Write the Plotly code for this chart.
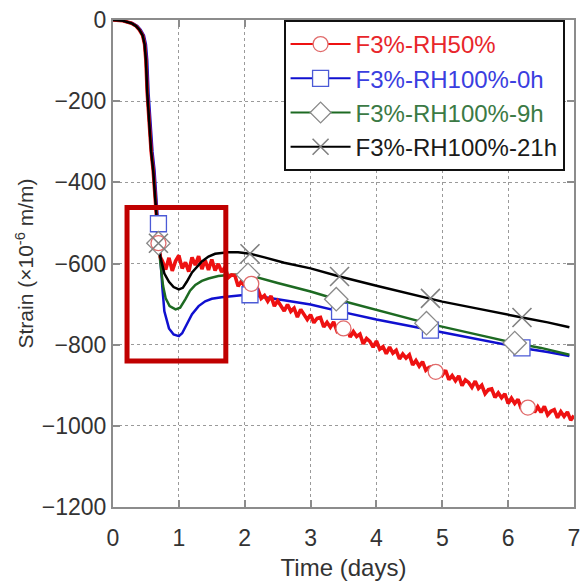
import plotly.graph_objects as go

# ---- data: time in days, strain in 1e-6 m/m ----
# early shrinkage drop shared by the RH50%, 9h and 21h specimens
DROP_T = [0, 0.15, 0.28, 0.35, 0.40, 0.45, 0.48, 0.50, 0.52, 0.55, 0.58, 0.61, 0.64, 0.69]
DROP_V = [0, -2, -8, -15, -24, -38, -60, -100, -180, -260, -325, -370, -448, -550]

BLACK_T = [0.72, 0.78, 0.85, 0.92, 1.00, 1.06, 1.12, 1.20, 1.35, 1.45, 1.55, 1.75, 1.90, 2.08,
           2.30, 2.60, 3.00, 3.44, 4.00, 4.50, 4.82, 5.00, 5.50, 6.00, 6.21, 6.60, 6.93]
BLACK_V = [-585, -625, -645, -658, -664, -660, -645, -622, -595, -583, -576, -572, -572, -576,
           -585, -598, -612, -632, -655, -675, -686, -694, -710, -727, -733, -745, -757]

GREEN_T = [0.72, 0.76, 0.80, 0.86, 0.95, 1.02, 1.10, 1.17, 1.25, 1.35, 1.45, 1.60, 1.80, 2.05,
           2.50, 3.00, 3.39, 4.00, 4.76, 5.50, 6.10, 6.50, 6.93]
GREEN_V = [-600, -655, -686, -705, -713, -709, -688, -667, -653, -643, -637, -631, -628, -628,
           -648, -669, -688, -715, -747, -774, -796, -808, -825]

BLUE_T = [0, 0.15, 0.30, 0.37, 0.42, 0.47, 0.50, 0.52, 0.54, 0.57, 0.60, 0.63, 0.66, 0.69,
          0.72, 0.75, 0.78, 0.85, 0.92, 1.00, 1.05, 1.10, 1.15, 1.20, 1.30, 1.40, 1.50, 1.65,
          1.95, 2.08, 2.50, 3.00, 3.44, 4.00, 4.82, 5.50, 6.21, 6.60, 6.93]
BLUE_V = [0, -2, -8, -15, -24, -38, -60, -100, -180, -260, -325, -370, -448, -502,
          -580, -660, -718, -760, -775, -779, -772, -757, -740, -725, -705, -693, -687, -683,
          -678, -677, -688, -701, -718, -738, -764, -786, -808, -818, -828]

RED_T = [0.72, 0.75, 0.80, 0.85, 0.90, 0.95, 1.00, 1.05, 1.10, 1.15, 1.20, 1.25, 1.30, 1.35,
         1.40, 1.45, 1.50, 1.55, 1.60, 1.65, 1.70, 1.75, 1.80, 1.85, 1.90, 1.95, 2.00, 2.05,
         2.10, 2.15, 2.20, 2.25, 2.30, 2.35, 2.40, 2.45, 2.50, 2.55, 2.60, 2.65, 2.70, 2.75,
         2.80, 2.85, 2.90, 2.95, 3.00, 3.05, 3.10, 3.15, 3.20, 3.25, 3.30, 3.35, 3.40, 3.45,
         3.50, 3.55, 3.60, 3.65, 3.70, 3.75, 3.80, 3.85, 3.90, 3.95, 4.00, 4.05, 4.10, 4.15,
         4.20, 4.25, 4.30, 4.35, 4.40, 4.45, 4.50, 4.55, 4.60, 4.65, 4.70, 4.75, 4.80, 4.85,
         4.90, 4.95, 5.00, 5.05, 5.10, 5.15, 5.20, 5.25, 5.30, 5.35, 5.40, 5.45, 5.50, 5.55,
         5.60, 5.65, 5.70, 5.75, 5.80, 5.85, 5.90, 5.95, 6.00, 6.05, 6.10, 6.15, 6.20, 6.25,
         6.30, 6.35, 6.40, 6.45, 6.50, 6.55, 6.60, 6.65, 6.70, 6.75, 6.80, 6.85, 6.90, 6.95,
         7.00]
RED_V = [-585, -594, -615, -586, -618, -594, -580, -612, -597, -620, -585, -604, -582, -614,
         -592, -616, -590, -617, -601, -621, -609, -635, -628, -629, -656, -644, -657, -648,
         -675, -663, -664, -686, -679, -693, -680, -705, -692, -705, -717, -701, -718, -710,
         -732, -713, -726, -738, -726, -746, -735, -733, -756, -745, -757, -744, -766, -758,
         -767, -756, -781, -768, -780, -774, -798, -785, -792, -806, -791, -811, -805, -822,
         -806, -821, -814, -835, -823, -833, -825, -850, -839, -853, -842, -863, -856, -854,
         -876, -863, -875, -863, -886, -876, -889, -877, -901, -887, -893, -905, -890, -908,
         -900, -921, -911, -909, -930, -919, -931, -921, -945, -932, -945, -935, -958, -946,
         -955, -947, -967, -953, -967, -952, -973, -964, -960, -980, -965, -977, -966, -986,
         -975]

# marker positions along each curve
RED_MK_T = [0.69, 2.10, 3.50, 4.90, 6.30]
RED_MK_V = [-550, -650, -760, -867, -955]
BLUE_MK_T = [0.69, 2.08, 3.44, 4.82, 6.21]
BLUE_MK_V = [-502, -677, -718, -764, -808]
GREEN_MK_T = [0.69, 2.05, 3.39, 4.76, 6.10]
GREEN_MK_V = [-550, -628, -688, -747, -796]
BLACK_MK_T = [0.69, 2.08, 3.44, 4.82, 6.21]
BLACK_MK_V = [-550, -576, -632, -686, -733]

NAMES = ["F3%-RH50%", "F3%-RH100%-0h", "F3%-RH100%-9h", "F3%-RH100%-21h"]
X_TICKS = [0, 1, 2, 3, 4, 5, 6, 7]
Y_TICKS = [0, -200, -400, -600, -800, -1000, -1200]

# ---- styles ----
LINE_COL = {"red": "#ee1111", "blue": "#1010d0", "green": "#1d6a22", "black": "#000000"}
TEXT_COL = {"red": "#e8262b", "blue": "#3a3ee0", "green": "#3b7a45", "black": "#1a1a1a"}
MARKER = {
    "red": dict(symbol="circle", size=15, color="white", line=dict(color="#e06a6a", width=1.3)),
    "blue": dict(symbol="square", size=16, color="white", line=dict(color="#4b5ad6", width=1.3)),
    "green": dict(symbol="diamond", size=18, color="white", line=dict(color="#8a8a8a", width=1.3)),
    "black": dict(symbol="x-thin-open", size=19, color="#808080", line=dict(color="#808080", width=1.6)),
}
FONT = "Liberation Sans, Arial, sans-serif"

fig = go.Figure()

series = {
    "blue": (BLUE_T, BLUE_V, BLUE_MK_T, BLUE_MK_V, NAMES[1]),
    "green": (DROP_T + GREEN_T, DROP_V + GREEN_V, GREEN_MK_T, GREEN_MK_V, NAMES[2]),
    "red": (DROP_T + RED_T, DROP_V + RED_V, RED_MK_T, RED_MK_V, NAMES[0]),
    "black": (DROP_T + BLACK_T, DROP_V + BLACK_V, BLACK_MK_T, BLACK_MK_V, NAMES[3]),
}
widths = {"blue": 2.5, "green": 2.5, "red": 3.6, "black": 2.5}

for key in ["blue", "green", "red", "black"]:
    t, v, mt, mv, name = series[key]
    fig.add_trace(go.Scatter(x=t, y=v, mode="lines", showlegend=False, hoverinfo="skip",
                             line=dict(color=LINE_COL[key], width=widths[key])))

for key in ["blue", "green", "red", "black"]:
    t, v, mt, mv, name = series[key]
    fig.add_trace(go.Scatter(x=mt, y=mv, mode="markers", showlegend=False,
                             marker=MARKER[key], cliponaxis=False))

# legend entries (line sample with marker), in legend order
for i, key in enumerate(["red", "blue", "green", "black"]):
    name = series[key][4]
    fig.add_trace(go.Scatter(
        x=[None], y=[None], mode="lines+markers",
        name=f'<span style="color:{TEXT_COL[key]}">{name}</span>',
        legendgroup=f"g{i}",
        line=dict(color=LINE_COL[key], width=2),
        marker=MARKER[key],
    ))

# highlight box around the early-age dip
fig.add_shape(type="rect", xref="x", yref="y", x0=0.213, x1=1.713, y0=-840, y1=-462,
              line=dict(color="#c00000", width=5), fillcolor="rgba(0,0,0,0)", layer="above")

axis_common = dict(
    showline=True, linecolor="#8c8c8c", linewidth=2, mirror="ticks",
    ticks="inside", ticklen=7, tickwidth=1.5, tickcolor="#8c8c8c",
    showgrid=True, gridcolor="#9a9a9a", gridwidth=1, griddash="dot",
    zeroline=False,
    tickfont=dict(family=FONT, size=23, color="#333333"),
)

fig.update_layout(
    width=587, height=584,
    margin=dict(l=113, r=7, t=17, b=77),
    paper_bgcolor="white", plot_bgcolor="white",
    font=dict(family=FONT, color="#333333"),
    xaxis=dict(range=[0, 7], tickvals=X_TICKS, ticklabelstandoff=9,
               title=dict(text="Time (days)", font=dict(family=FONT, size=24, color="#333333"),
                          standoff=10),
               **axis_common),
    yaxis=dict(range=[-1200, 0], tickvals=Y_TICKS, ticklabelstandoff=0,
               title=dict(text="Strain (×10<sup>-6</sup> m/m)",
                          font=dict(family=FONT, size=21, color="#333333"), standoff=2),
               **axis_common),
    legend=dict(
        x=0.37, y=1.0, xanchor="left", yanchor="top",
        bgcolor="white", bordercolor="#111111", borderwidth=2,
        font=dict(family=FONT, size=24),
        itemwidth=60, tracegroupgap=0,
    ),
)

fig.write_html("out.html")
